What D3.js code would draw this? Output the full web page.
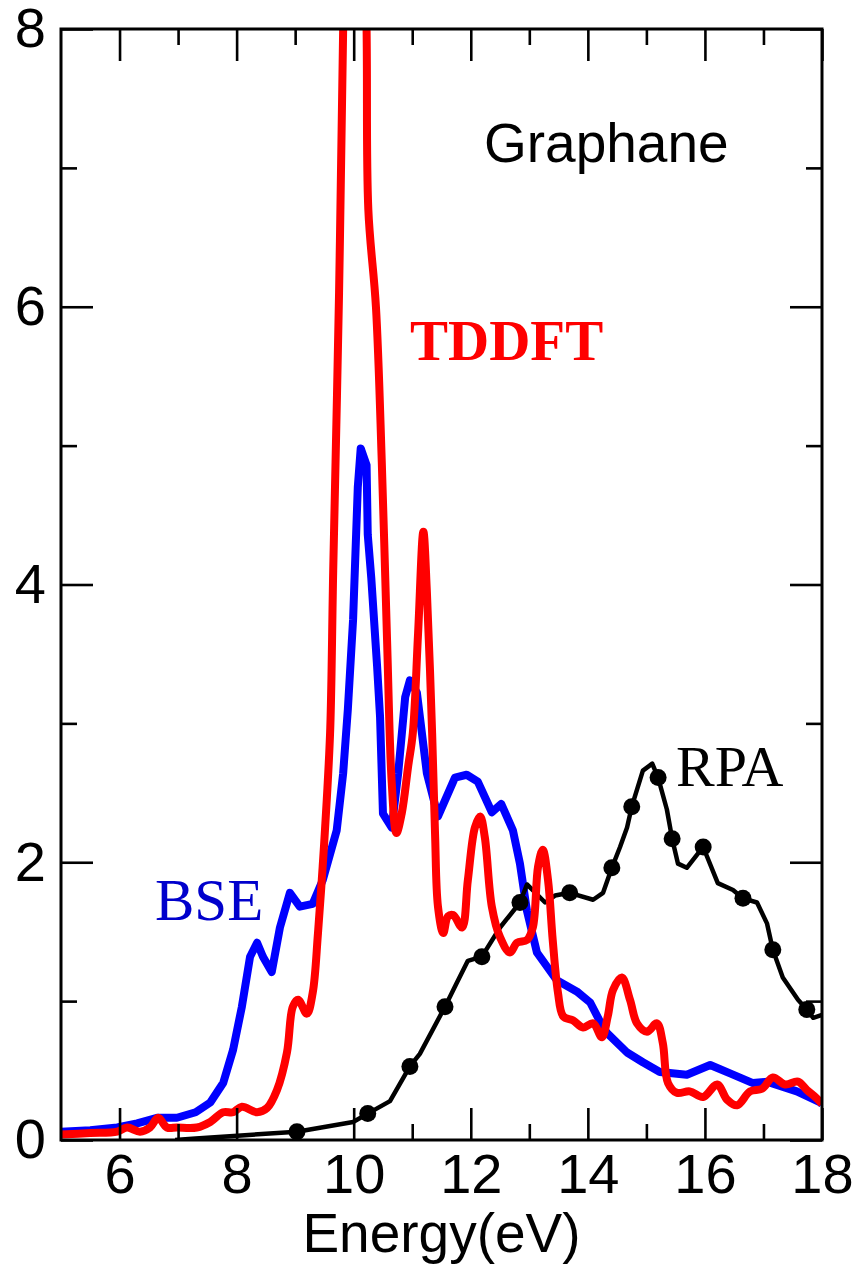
<!DOCTYPE html>
<html>
<head>
<meta charset="utf-8">
<script src="https://cdn.jsdelivr.net/npm/d3@7"></script>
<style>
body { margin: 0; background: #fff; }
</style>
</head>
<body>
<div id="graphic"></div>
<script>
// BSE (blue)
var bseE   = [5.0, 5.5, 5.96, 6.3, 6.64, 6.98, 7.3, 7.55, 7.77, 7.94, 8.09, 8.23, 8.35, 8.45, 8.60, 8.74, 8.91, 9.08, 9.30, 9.47, 9.71, 9.82, 9.90, 9.99, 10.07, 10.12, 10.22, 10.24, 10.30, 10.40, 10.45, 10.50, 10.65, 10.76, 10.88, 10.96, 11.08, 11.25, 11.44, 11.73, 11.93, 12.12, 12.36, 12.52, 12.72, 12.84, 12.96, 13.13, 13.47, 13.81, 14.04, 14.26, 14.33, 14.67, 14.94, 15.23, 15.69, 16.09, 16.43, 16.82, 17.06, 17.57, 17.97, 18.0];
var bseEps = [0.06, 0.07, 0.09, 0.12, 0.16, 0.16, 0.20, 0.27, 0.41, 0.65, 0.96, 1.32, 1.42, 1.32, 1.21, 1.53, 1.78, 1.68, 1.70, 1.87, 2.23, 2.64, 3.10, 3.75, 4.70, 4.98, 4.86, 4.36, 4.05, 3.41, 3.05, 2.35, 2.25, 2.64, 3.19, 3.31, 3.22, 2.64, 2.33, 2.61, 2.63, 2.58, 2.36, 2.42, 2.23, 1.99, 1.65, 1.35, 1.15, 1.07, 0.99, 0.81, 0.77, 0.63, 0.56, 0.49, 0.47, 0.54, 0.48, 0.41, 0.42, 0.35, 0.27, 0.26];

// TDDFT (red)
var tddftE   = [5.0, 5.5, 5.96, 6.13, 6.35, 6.52, 6.66, 6.81, 6.98, 7.32, 7.55, 7.77, 7.94, 8.09, 8.35, 8.52, 8.69, 8.86, 8.96, 9.05, 9.20, 9.30, 9.39, 9.47, 9.54, 9.60, 9.65, 9.75, 9.82, 9.92, 10.05, 10.15, 10.22, 10.25, 10.38, 10.48, 10.57, 10.65, 10.73, 10.82, 10.93, 11.01, 11.10, 11.19, 11.25, 11.34, 11.39, 11.44, 11.53, 11.61, 11.70, 11.85, 11.95, 12.07, 12.16, 12.24, 12.36, 12.50, 12.67, 12.79, 12.96, 13.06, 13.15, 13.23, 13.32, 13.40, 13.49, 13.58, 13.75, 13.92, 14.09, 14.24, 14.34, 14.43, 14.58, 14.72, 14.84, 15.01, 15.18, 15.28, 15.37, 15.52, 15.74, 15.97, 16.21, 16.38, 16.55, 16.77, 16.98, 17.16, 17.37, 17.59, 17.74, 17.91, 18.0];
var tddftEps = [0.04, 0.05, 0.06, 0.09, 0.06, 0.09, 0.16, 0.09, 0.09, 0.09, 0.13, 0.20, 0.20, 0.24, 0.20, 0.23, 0.36, 0.63, 0.96, 1.01, 0.91, 1.06, 1.49, 1.97, 2.45, 2.97, 4.10, 6.10, 8.00, 9.60, 10.0, 9.40, 8.00, 6.70, 6.00, 4.88, 3.60, 2.57, 2.21, 2.35, 2.69, 2.93, 3.65, 4.38, 3.95, 2.93, 2.20, 1.68, 1.49, 1.61, 1.62, 1.53, 1.87, 2.25, 2.33, 2.18, 1.68, 1.46, 1.35, 1.42, 1.44, 1.53, 1.97, 2.09, 1.87, 1.44, 1.06, 0.89, 0.86, 0.81, 0.84, 0.74, 0.89, 1.08, 1.17, 1.01, 0.84, 0.78, 0.84, 0.70, 0.41, 0.34, 0.35, 0.31, 0.40, 0.29, 0.25, 0.35, 0.37, 0.45, 0.40, 0.42, 0.36, 0.30, 0.26];

// RPA (black, with symbols)
var rpaE   = [6.95, 7.3, 9.03, 9.99, 10.24, 10.62, 10.96, 11.13, 11.56, 11.76, 11.95, 12.19, 12.50, 12.84, 12.96, 13.27, 13.44, 13.69, 14.09, 14.26, 14.41, 14.55, 14.67, 14.75, 14.94, 15.10, 15.20, 15.35, 15.44, 15.54, 15.69, 15.97, 16.22, 16.48, 16.65, 16.89, 17.06, 17.16, 17.33, 17.59, 17.74, 17.85, 18.0];
var rpaEps = [0.0, 0.01, 0.06, 0.13, 0.19, 0.28, 0.53, 0.62, 0.96, 1.13, 1.29, 1.32, 1.53, 1.71, 1.84, 1.71, 1.76, 1.78, 1.73, 1.78, 1.96, 2.11, 2.25, 2.40, 2.66, 2.71, 2.61, 2.38, 2.17, 1.99, 1.96, 2.11, 1.85, 1.80, 1.74, 1.71, 1.56, 1.37, 1.17, 1.01, 0.94, 0.88, 0.90];
var rpaMarkE   = [9.03, 10.24, 10.96, 11.56, 12.19, 12.84, 13.69, 14.41, 14.75, 15.20, 15.44, 15.97, 16.65, 17.16, 17.74];
var rpaMarkEps = [0.06, 0.19, 0.53, 0.96, 1.32, 1.71, 1.78, 1.96, 2.40, 2.61, 2.17, 2.11, 1.74, 1.37, 0.94];

// ticks
var xMajor = [6, 8, 10, 12, 14, 16, 18];
var xMinor = [7, 9, 11, 13, 15, 17];
var yMajor = [0, 2, 4, 6, 8];
var yMinor = [1, 3, 5, 7];

var W = 858, H = 1268;
var pLeft = 61, pRight = 822, pTop = 29, pBottom = 1140;

var svg = d3.select("#graphic").append("svg")
    .attr("width", W)
    .attr("height", H);

var x = d3.scaleLinear().domain([5, 18]).range([pLeft, pRight]);
var y = d3.scaleLinear().domain([0, 8]).range([pBottom, pTop]);

svg.append("clipPath").attr("id", "plotclip")
  .append("rect")
    .attr("x", pLeft).attr("y", pTop)
    .attr("width", pRight - pLeft).attr("height", pBottom - pTop);

var line = d3.line().x(function(d) { return x(d[0]); }).y(function(d) { return y(d[1]); });
var smooth = d3.line().curve(d3.curveCatmullRom.alpha(0.5))
    .x(function(d) { return x(d[0]); }).y(function(d) { return y(d[1]); });

var curves = svg.append("g").attr("clip-path", "url(#plotclip)");

// blue
curves.append("path")
    .datum(d3.zip(bseE, bseEps))
    .attr("d", line)
    .attr("fill", "none")
    .attr("stroke", "#0000ff")
    .attr("stroke-width", 8)
    .attr("stroke-linejoin", "round");

// black
curves.append("path")
    .datum(d3.zip(rpaE, rpaEps))
    .attr("d", line)
    .attr("fill", "none")
    .attr("stroke", "#000")
    .attr("stroke-width", 4.5)
    .attr("stroke-linejoin", "round");

curves.selectAll("circle.rpa")
    .data(d3.zip(rpaMarkE, rpaMarkEps))
  .enter().append("circle")
    .attr("class", "rpa")
    .attr("cx", function(d) { return x(d[0]); })
    .attr("cy", function(d) { return y(d[1]); })
    .attr("r", 8.5)
    .attr("fill", "#000");

// red
curves.append("path")
    .datum(d3.zip(tddftE, tddftEps))
    .attr("d", smooth)
    .attr("fill", "none")
    .attr("stroke", "#ff0000")
    .attr("stroke-width", 8)
    .attr("stroke-linejoin", "round");

// axes, ticks inside on all four sides
function styleAxis(g, w) {
  g.select(".domain").remove();
  g.selectAll(".tick line").attr("stroke", "#000").attr("stroke-width", w);
  g.selectAll(".tick text")
    .attr("fill", "#000")
    .style("font-family", "'Liberation Sans', Arial, Helvetica, sans-serif")
    .style("font-size", "56px");
}

svg.append("g").attr("transform", "translate(0," + pBottom + ")")
    .call(d3.axisBottom(x).tickValues(xMajor).tickSize(-32).tickPadding(13).tickFormat(d3.format("d")))
    .call(styleAxis, 2.6);
svg.append("g").attr("transform", "translate(0," + pBottom + ")")
    .call(d3.axisBottom(x).tickValues(xMinor).tickSize(-16).tickFormat(""))
    .call(styleAxis, 2.6);
svg.append("g").attr("transform", "translate(0," + pTop + ")")
    .call(d3.axisTop(x).tickValues(xMajor).tickSize(-32).tickFormat(""))
    .call(styleAxis, 2.6);
svg.append("g").attr("transform", "translate(0," + pTop + ")")
    .call(d3.axisTop(x).tickValues(xMinor).tickSize(-16).tickFormat(""))
    .call(styleAxis, 2.6);

svg.append("g").attr("transform", "translate(" + pLeft + ",0)")
    .call(d3.axisLeft(y).tickValues(yMajor).tickSize(-32).tickPadding(15).tickFormat(d3.format("d")))
    .call(styleAxis, 2.6);
svg.append("g").attr("transform", "translate(" + pLeft + ",0)")
    .call(d3.axisLeft(y).tickValues(yMinor).tickSize(-16).tickFormat(""))
    .call(styleAxis, 2.6);
svg.append("g").attr("transform", "translate(" + pRight + ",0)")
    .call(d3.axisRight(y).tickValues(yMajor).tickSize(-32).tickFormat(""))
    .call(styleAxis, 2.6);
svg.append("g").attr("transform", "translate(" + pRight + ",0)")
    .call(d3.axisRight(y).tickValues(yMinor).tickSize(-16).tickFormat(""))
    .call(styleAxis, 2.6);

// frame
svg.append("rect")
    .attr("x", pLeft).attr("y", pTop)
    .attr("width", pRight - pLeft).attr("height", pBottom - pTop)
    .attr("fill", "none")
    .attr("stroke", "#000")
    .attr("stroke-width", 3);

// labels
svg.append("text")
    .attr("x", (pLeft + pRight) / 2).attr("y", 1252)
    .attr("text-anchor", "middle")
    .style("font-family", "'Liberation Sans', Arial, Helvetica, sans-serif")
    .style("font-size", "55px")
    .text("Energy(eV)");

svg.append("text")
    .attr("x", 484).attr("y", 162)
    .style("font-family", "'Liberation Sans', Arial, Helvetica, sans-serif")
    .style("font-size", "55px")
    .text("Graphane");

svg.append("text")
    .attr("x", 410).attr("y", 360)
    .style("font-family", "'Liberation Serif', 'Times New Roman', serif")
    .style("font-size", "57px")
    .style("font-weight", "bold")
    .attr("fill", "#ff0000")
    .text("TDDFT");

svg.append("text")
    .attr("x", 155).attr("y", 920)
    .style("font-family", "'Liberation Serif', 'Times New Roman', serif")
    .style("font-size", "59px")
    .attr("fill", "#0000cc")
    .text("BSE");

svg.append("text")
    .attr("x", 676).attr("y", 786)
    .style("font-family", "'Liberation Serif', 'Times New Roman', serif")
    .style("font-size", "58px")
    .attr("fill", "#000")
    .text("RPA");
</script>
</body>
</html>
